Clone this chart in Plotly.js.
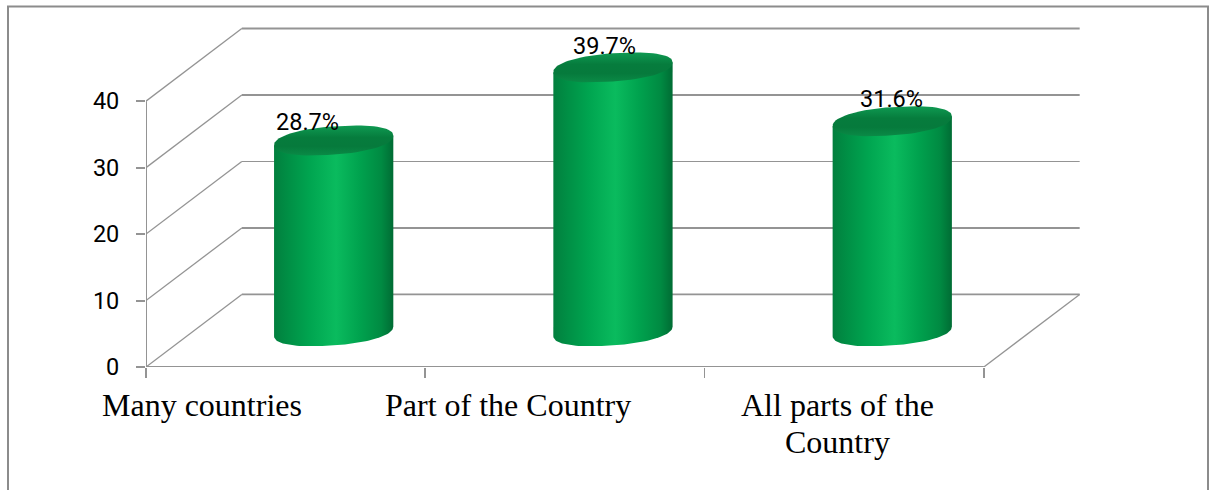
<!DOCTYPE html>
<html>
<head>
<meta charset="utf-8">
<script src="https://cdn.plot.ly/plotly-3.0.1.min.js"></script>
<style>html,body{margin:0;padding:0;background:#fff;overflow:hidden}#chart{width:1211px;height:490px}</style>
</head>
<body>
<div id="chart"></div>
<script>
// Chart data
const categories = ["Many countries", "Part of the Country", "All parts of the<br>Country"];
const percentages = [28.7, 39.7, 31.6];
const valueTicks = [0, 10, 20, 30, 40];
const categoryEdges = [0, 1, 2, 3];

// Oblique projection of the 3D box, in axis units
const depthX = 0.343, depthY = 10.92;
const barShiftX = 0.172, barShiftY = 5.38;
const radiusX = 0.2135, radiusY = 2.12, tilt = 0.72;

// Text placement relative to the category slot (axis units) and its mark (px)
const labelShiftX = [-0.298, -0.205, -0.025];
const valueShiftX = [-26, -8, -1];
const valueShiftY = [-19, -21, -22];

// Stroke weights of the back-wall rules, one per value tick
const ruleWidths = [1.6, 2, 1.2, 2, 2];

const gridColor = "#949494";
const traces = [];

function line(xs, ys, width) {
  traces.push({x: xs, y: ys, mode: "lines", hoverinfo: "skip", showlegend: false, cliponaxis: false,
    line: {color: gridColor, width: width}});
}

// Walls and floor of the box
valueTicks.forEach((v, i) => {
  line([0, depthX], [v, v + depthY], 1.3);
  line([depthX, 3 + depthX], [v + depthY, v + depthY], ruleWidths[i]);
});
line([0, 0], [0, 40], 2);
line([0, 3], [0, 0], 2);
line([3, 3 + depthX], [0, depthY], 1.3);

// Rounded outline: slightly blunter than a true ellipse at its ends
const blunt = c => Math.sign(c) * Math.pow(Math.abs(c), 0.9);

// Cylinders: body with a sideways shade, then the darker cap
const bodyShade = [[0, "#027f3e"], [0.12, "#008f45"], [0.3, "#00a550"], [0.52, "#0abb5e"], [0.72, "#00a24e"], [0.9, "#008a42"], [1, "#006c34"]];
const capShade = [[0, "#0a8a46"], [0.3, "#067a3c"], [0.6, "#067c3d"], [1, "#0f9a52"]];
percentages.forEach((v, i) => {
  const cx = i + 0.5 + barShiftX, base = barShiftY;
  const ex = t => cx + radiusX * blunt(Math.cos(t));
  const ey = (t, lvl) => lvl + radiusY * blunt(Math.sin(t)) + tilt * Math.cos(t);
  const bx = [], by = [];
  for (let k = 0; k <= 60; k++) {
    const t = -Math.PI * k / 60;
    bx.push(ex(t)); by.push(ey(t, base));
  }
  bx.push(ex(-Math.PI), ex(0));
  by.push(ey(Math.PI, base + v), ey(0, base + v));
  traces.push({x: bx, y: by, mode: "lines", fill: "toself", hoverinfo: "skip", showlegend: false,
    line: {width: 0, color: "rgba(0,0,0,0)"},
    fillgradient: {type: "horizontal", colorscale: bodyShade}});
  const cxs = [], cys = [];
  for (let k = 0; k <= 72; k++) {
    const t = 2 * Math.PI * k / 72;
    cxs.push(ex(t)); cys.push(ey(t, base + v));
  }
  traces.push({x: cxs, y: cys, mode: "lines", fill: "toself", hoverinfo: "skip", showlegend: false,
    line: {width: 0, color: "rgba(0,0,0,0)"},
    fillgradient: {type: "vertical", colorscale: capShade}});
});

// Value labels above the caps
const annotations = percentages.map((v, i) => ({
  x: i + 0.5 + barShiftX, y: barShiftY + v, xref: "x", yref: "y",
  text: v.toFixed(1) + "%", showarrow: false, xshift: valueShiftX[i], yshift: -valueShiftY[i],
  font: {family: "Roboto, sans-serif", size: 23.5, color: "#000"}
}));

// Category labels, one annotation per line
categories.forEach((c, i) => {
  c.split("<br>").forEach((part, n) => {
    annotations.push({
      x: i + 0.5 + labelShiftX[i], y: 0, xref: "x", yref: "y", yanchor: "middle",
      text: part, showarrow: false, yshift: -38 - 37 * n,
      font: {family: "Liberation Serif, serif", size: 32, color: "#000"}
    });
  });
});

const layout = {
  width: 1211, height: 490,
  margin: {l: 146, r: 121, t: 20, b: 123.3},
  paper_bgcolor: "#fff", plot_bgcolor: "#fff",
  showlegend: false,
  xaxis: {range: [0, 3.38], tickmode: "array", tickvals: categoryEdges, ticktext: categoryEdges.map(() => ""),
    ticks: "outside", ticklen: 10, tickwidth: 1.6, tickcolor: gridColor,
    showgrid: false, zeroline: false, showline: false, fixedrange: true},
  yaxis: {range: [0, 52.21], tickmode: "array", tickvals: valueTicks, ticktext: valueTicks.map(String),
    ticks: "outside", ticklen: 9, tickwidth: 2, tickcolor: gridColor, ticklabelstandoff: 12,
    tickfont: {family: "Roboto, sans-serif", size: 23.5, color: "#000"},
    showgrid: false, zeroline: false, showline: false, fixedrange: true},
  annotations: annotations,
  // Outer chart frame, open along the bottom of the page
  shapes: [{
    type: "path", xref: "paper", yref: "paper", layer: "below",
    path: "M " + (8 - 146) / 944 + " " + (366.7 - 495) / 346.7 +
          " L " + (8 - 146) / 944 + " " + (366.7 - 6.5) / 346.7 +
          " L " + (1208 - 146) / 944 + " " + (366.7 - 6.5) / 346.7 +
          " L " + (1208 - 146) / 944 + " " + (366.7 - 495) / 346.7,
    line: {color: "#8c8c8c", width: 2}
  }]
};

Plotly.newPlot("chart", traces, layout, {displayModeBar: false, staticPlot: true});
</script>
</body>
</html>
